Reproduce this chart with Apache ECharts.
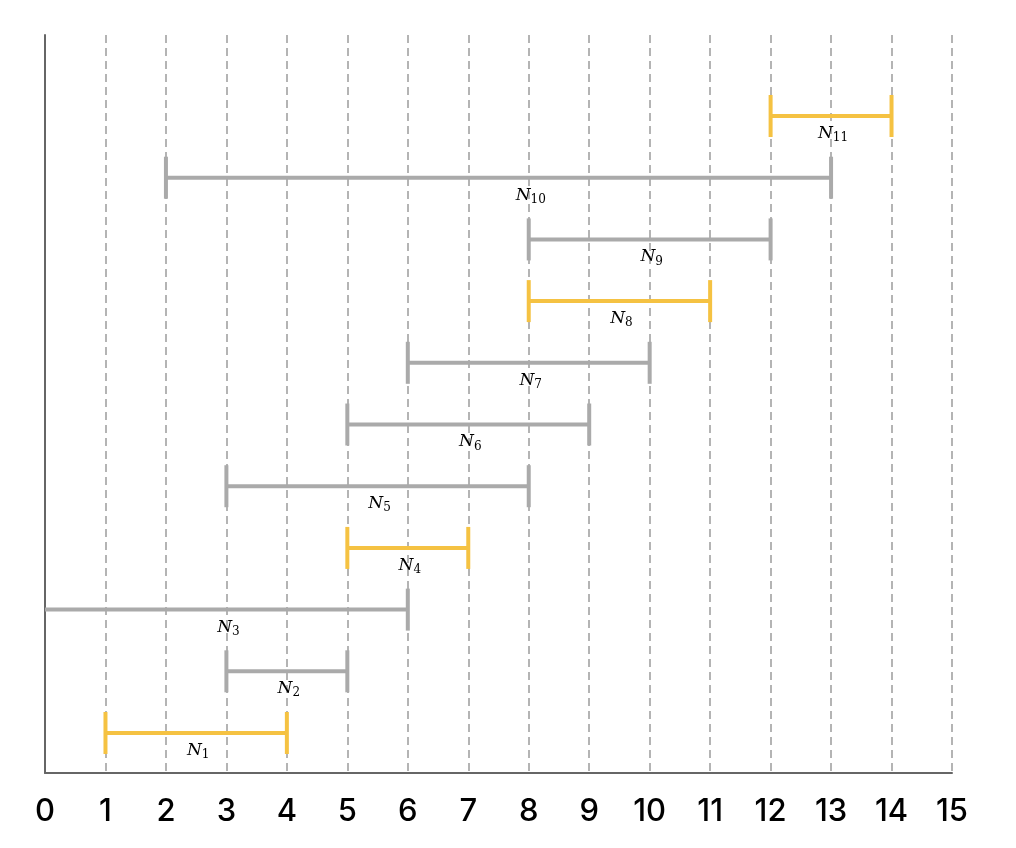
<!DOCTYPE html>
<html>
<head>
<meta charset="utf-8">
<script src="https://cdn.jsdelivr.net/npm/echarts@6/dist/echarts.min.js"></script>
<style>html,body{margin:0;padding:0;background:#fff;}#c{width:1016px;height:848px;}</style>
</head>
<body>
<div id="c"></div>
<script>
const names = ['1','2','3','4','5','6','7','8','9','10','11'];
const starts = [1, 3, 0, 5, 3, 5, 6, 8, 8, 2, 12];
const ends   = [4, 5, 6, 7, 8, 9, 10, 11, 12, 13, 14];
const rows   = [1, 2, 3, 4, 5, 6, 7, 8, 9, 10, 11];
const labelX = [2.5, 4, 3, 6, 5.5, 7, 8, 9.5, 10, 8, 13];
const highlighted = [true, false, false, true, false, false, false, true, false, false, true];
const xTicks = [0,1,2,3,4,5,6,7,8,9,10,11,12,13,14,15];

const YELLOW = '#F5C242';
const GRAY = '#AAAAAA';

const data = names.map((n, i) => [starts[i], ends[i], rows[i], labelX[i], highlighted[i] ? 1 : 0, n]);

const chart = echarts.init(document.getElementById('c'));
chart.setOption({
  animation: false,
  grid: { left: 45, right: 64, top: 35, bottom: 75 },
  xAxis: {
    type: 'value', min: 0, max: 15, interval: 1,
    axisLine: { show: true, lineStyle: { color: '#666666', width: 2 } },
    axisTick: { show: false },
    axisLabel: { color: '#000', fontSize: 31, fontWeight: 500, fontFamily: 'Inter', margin: 23,
      formatter: v => xTicks.includes(v) ? String(v) : '' },
    splitLine: { show: true, lineStyle: { color: '#B4B4B4', width: 2, type: [8, 5] } }
  },
  yAxis: {
    type: 'value', min: 0.352, max: 12.313,
    axisLine: { show: true, onZero: false, lineStyle: { color: '#666666', width: 2 } },
    axisTick: { show: false },
    axisLabel: { show: false },
    splitLine: { show: false }
  },
  series: [{
    type: 'custom',
    data: data,
    encode: { x: [0, 1], y: 2 },
    renderItem: function (params, api) {
      const s = api.value(0), e = api.value(1), r = api.value(2), lx = api.value(3);
      const col = api.value(4) ? YELLOW : GRAY;
      const name = data[params.dataIndex][5];
      const p1 = api.coord([s, r]);
      const p2 = api.coord([e, r]);
      const pl = api.coord([lx, r]);
      const capH = 21;
      const children = [
        { type: 'line', shape: { x1: p1[0], y1: p1[1], x2: p2[0], y2: p2[1] }, style: { stroke: col, lineWidth: 4 } },
        { type: 'line', shape: { x1: p2[0], y1: p2[1] - capH, x2: p2[0], y2: p2[1] + capH }, style: { stroke: col, lineWidth: 4 } }
      ];
      if (s > 0) {
        children.push({ type: 'line', shape: { x1: p1[0], y1: p1[1] - capH, x2: p1[0], y2: p1[1] + capH }, style: { stroke: col, lineWidth: 4 } });
      }
      children.push({
        type: 'text',
        x: pl[0] + 2, y: p1[1] + 7,
        style: {
          text: '{n|N}{s|' + name + '}',
          align: 'center', verticalAlign: 'top',
          rich: {
            n: { fontFamily: 'DejaVu Serif', fontStyle: 'italic', fontSize: 17, fill: '#000', color: '#000', lineHeight: 21 },
            s: { fontFamily: 'DejaVu Serif', fontSize: 12, fill: '#000', color: '#000', lineHeight: 21, padding: [9, 0, 0, 0] }
          }
        }
      });
      return { type: 'group', children: children };
    }
  }]
});
</script>
</body>
</html>
